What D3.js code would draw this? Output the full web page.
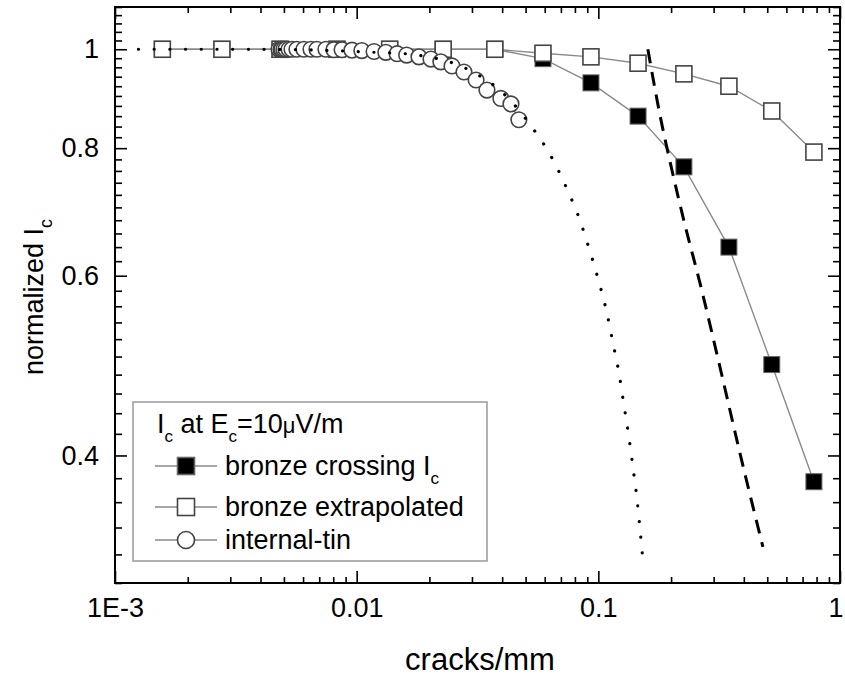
<!DOCTYPE html>
<html>
<head>
<meta charset="utf-8">
<script src="https://cdn.jsdelivr.net/npm/d3@7"></script>
<style>
  body { margin: 0; background: #fff; }
  text { font-family: "Liberation Sans", Arial, sans-serif; fill: #000; }
</style>
</head>
<body>
<svg id="chart"></svg>
<script>
// crack densities of the bronze samples (cracks/mm)
const bronzeX = [0.00157, 0.00277, 0.00482, 0.00829, 0.0137, 0.0228, 0.0373, 0.059, 0.0932, 0.146, 0.226, 0.347, 0.522, 0.78];
const bronzeCrossing = [1.0, 1.0, 1.0, 1.0, 1.0, 1.0, 1.0, 0.979, 0.927, 0.860, 0.767, 0.640, 0.491, 0.377];
const bronzeExtrap = [1.0, 1.0, 1.0, 1.0, 1.0, 1.0, 1.0, 0.991, 0.983, 0.969, 0.946, 0.920, 0.870, 0.793];

// internal-tin wire
const tinX = [0.00477, 0.00486, 0.00491, 0.0050, 0.0051, 0.00525, 0.0054, 0.00566, 0.00605, 0.00647,
              0.00685, 0.00746, 0.00805, 0.0087, 0.00956, 0.0105, 0.0118, 0.0132, 0.0147, 0.0161,
              0.0181, 0.0203, 0.0223, 0.0248, 0.0278, 0.0312, 0.0346, 0.0395, 0.0435, 0.0469];
const tinIc = [1.0, 1.0, 1.0, 1.0, 1.0, 1.0, 1.0, 1.0, 1.0, 1.0,
               1.0, 1.0, 0.999, 0.999, 0.998, 0.997, 0.995, 0.993, 0.99, 0.987,
               0.983, 0.978, 0.972, 0.963, 0.950, 0.933, 0.912, 0.895, 0.884, 0.853];

// model curves
const fitBronzeX = [0.1603, 0.1799, 0.2016, 0.2283, 0.2633, 0.3185, 0.3854, 0.4797];
const fitBronzeY = [1.0, 0.862, 0.7616, 0.6727, 0.5903, 0.4884, 0.4022, 0.3254];
const fitTinX = [0.00125, 0.0031, 0.0058, 0.0108, 0.0166, 0.0197, 0.0228, 0.0303, 0.0419, 0.0531, 0.0643, 0.0742,
                 0.0839, 0.0923, 0.1006, 0.1085, 0.1149, 0.1217, 0.1276, 0.1338, 0.139, 0.1444, 0.1486, 0.1529];
const fitTinY = [1.0, 1.0, 0.999, 0.994, 0.989, 0.983, 0.976, 0.95, 0.898, 0.839, 0.7825, 0.7296,
                 0.68, 0.634, 0.5916, 0.5517, 0.5156, 0.4818, 0.4482, 0.417, 0.3896, 0.3634, 0.3397, 0.3159];

const xTicks = [0.001, 0.01, 0.1, 1];
const xTickLabels = ["1E-3", "0.01", "0.1", "1"];
const yTicks = [0.4, 0.6, 0.8, 1];
const yTickLabels = ["0.4", "0.6", "0.8", "1"];

const width = 845, height = 678;
const margin = { top: 7, right: 5, bottom: 95, left: 115 };

const svg = d3.select("#chart").attr("width", width).attr("height", height);

const x = d3.scaleLog().domain([0.001, 1]).range([margin.left, width - margin.right]);
const y = d3.scaleLog().domain([0.3, 1.1]).range([height - margin.bottom, margin.top]);

const xMinor = [];
[0.001, 0.01, 0.1].forEach(d => { for (let k = 2; k <= 9; k++) xMinor.push(d * k); });
const yMinor = d3.range(30, 111, 2).map(v => v / 100).filter(v => !yTicks.some(t => Math.abs(t - v) < 1e-6));

const x0 = margin.left, x1 = width - margin.right, y0 = height - margin.bottom, y1 = margin.top;

function tickStyle(g) {
  g.select(".domain").remove();
  g.selectAll("line").attr("stroke", "#000").attr("stroke-width", 1.6);
  g.selectAll("text").style("font-size", "27px").attr("fill", "#000");
}

// bottom
const bottomAxis = svg.append("g").attr("transform", `translate(0,${y0})`)
  .call(d3.axisBottom(x).tickValues(xTicks).tickFormat((d, i) => xTickLabels[i]).tickSize(-12).tickPadding(15).tickSizeOuter(0))
  .call(tickStyle);
// keep the last label inside the window
bottomAxis.selectAll("text").filter(d => d === 1).attr("text-anchor", "end").attr("dx", 3);
svg.append("g").attr("transform", `translate(0,${y0})`)
  .call(d3.axisBottom(x).tickValues(xMinor).tickFormat("").tickSize(-6).tickSizeOuter(0))
  .call(tickStyle);
// top
svg.append("g").attr("transform", `translate(0,${y1})`)
  .call(d3.axisTop(x).tickValues(xTicks).tickFormat("").tickSize(-12).tickSizeOuter(0))
  .call(tickStyle);
svg.append("g").attr("transform", `translate(0,${y1})`)
  .call(d3.axisTop(x).tickValues(xMinor).tickFormat("").tickSize(-6).tickSizeOuter(0))
  .call(tickStyle);
// left
svg.append("g").attr("transform", `translate(${x0},0)`)
  .call(d3.axisLeft(y).tickValues(yTicks).tickFormat((d, i) => yTickLabels[i]).tickSize(-12).tickPadding(16).tickSizeOuter(0))
  .call(tickStyle);
svg.append("g").attr("transform", `translate(${x0},0)`)
  .call(d3.axisLeft(y).tickValues(yMinor).tickFormat("").tickSize(-7).tickSizeOuter(0))
  .call(tickStyle);
// right
svg.append("g").attr("transform", `translate(${x1},0)`)
  .call(d3.axisRight(y).tickValues(yTicks).tickFormat("").tickSize(-12).tickSizeOuter(0))
  .call(tickStyle);
svg.append("g").attr("transform", `translate(${x1},0)`)
  .call(d3.axisRight(y).tickValues(yMinor).tickFormat("").tickSize(-7).tickSizeOuter(0))
  .call(tickStyle);

// frame
svg.append("rect")
  .attr("x", x0).attr("y", y1).attr("width", x1 - x0).attr("height", y0 - y1)
  .attr("fill", "none").attr("stroke", "#000").attr("stroke-width", 2);

const line = d3.line().x(d => x(d[0])).y(d => y(d[1]));
const smooth = d3.line().x(d => x(d[0])).y(d => y(d[1])).curve(d3.curveMonotoneX);

const crossPts = bronzeX.map((v, i) => [v, bronzeCrossing[i]]);
const extrapPts = bronzeX.map((v, i) => [v, bronzeExtrap[i]]);
const tinPts = tinX.map((v, i) => [v, tinIc[i]]);

const sq = 16;

// bronze crossing Ic (filled)
svg.append("path").datum(crossPts).attr("d", line)
  .attr("fill", "none").attr("stroke", "#8a8a8a").attr("stroke-width", 1.4);
svg.selectAll(".filled").data(crossPts).enter().append("rect")
  .attr("class", "filled")
  .attr("x", d => x(d[0]) - sq / 2).attr("y", d => y(d[1]) - sq / 2)
  .attr("width", sq).attr("height", sq)
  .attr("fill", "#000").attr("stroke", "#666").attr("stroke-width", 1);

// bronze extrapolated (open)
svg.append("path").datum(extrapPts).attr("d", line)
  .attr("fill", "none").attr("stroke", "#8a8a8a").attr("stroke-width", 1.4);
svg.selectAll(".open").data(extrapPts).enter().append("rect")
  .attr("class", "open")
  .attr("x", d => x(d[0]) - sq / 2).attr("y", d => y(d[1]) - sq / 2)
  .attr("width", sq).attr("height", sq)
  .attr("fill", "#fff").attr("stroke", "#444").attr("stroke-width", 1.6);

// internal-tin
svg.append("path").datum(tinPts).attr("d", line)
  .attr("fill", "none").attr("stroke", "#8a8a8a").attr("stroke-width", 1.4);
svg.selectAll(".tin").data(tinPts).enter().append("circle")
  .attr("class", "tin")
  .attr("cx", d => x(d[0])).attr("cy", d => y(d[1])).attr("r", 7.8)
  .attr("fill", "#fff").attr("stroke", "#444").attr("stroke-width", 1.6);

// model curves
svg.append("path").datum(fitBronzeX.map((v, i) => [v, fitBronzeY[i]])).attr("d", smooth)
  .attr("fill", "none").attr("stroke", "#000").attr("stroke-width", 3)
  .attr("stroke-dasharray", "14 9");
svg.append("path").datum(fitTinX.map((v, i) => [v, fitTinY[i]])).attr("d", smooth)
  .attr("fill", "none").attr("stroke", "#000").attr("stroke-width", 3.2)
  .attr("stroke-linecap", "round").attr("stroke-dasharray", "0.1 15.6");

// axis titles
svg.append("text").attr("x", 480).attr("y", 670).attr("text-anchor", "middle")
  .style("font-size", "31px").text("cracks/mm");

const yt = svg.append("text").attr("transform", "translate(43,297) rotate(-90)")
  .attr("text-anchor", "middle").style("font-size", "27px");
yt.append("tspan").text("normalized I");
yt.append("tspan").attr("dy", 9).style("font-size", "18px").text("c");

// legend
const lg = svg.append("g");
lg.append("rect").attr("x", 133).attr("y", 402).attr("width", 354).attr("height", 159)
  .attr("fill", "#fff").attr("stroke", "#999").attr("stroke-width", 1.5);

const lt = lg.append("text").attr("x", 157).attr("y", 433).style("font-size", "27px");
lt.append("tspan").text("I");
lt.append("tspan").attr("dy", 9).style("font-size", "17px").text("c");
lt.append("tspan").attr("dy", -9).text(" at E");
lt.append("tspan").attr("dy", 9).style("font-size", "17px").text("c");
lt.append("tspan").attr("dy", -9).text("=10");
lt.append("tspan").style("font-size", "22px").text("μ");
lt.append("tspan").text("V/m");

const rows = [
  { cy: 466, label: "bronze crossing I", sub: "c", shape: "filled" },
  { cy: 507, label: "bronze extrapolated", sub: "", shape: "open" },
  { cy: 540, label: "internal-tin", sub: "", shape: "circle" }
];
rows.forEach(r => {
  lg.append("line").attr("x1", 155).attr("x2", 217).attr("y1", r.cy).attr("y2", r.cy)
    .attr("stroke", "#8a8a8a").attr("stroke-width", 1.4);
  if (r.shape === "circle") {
    lg.append("circle").attr("cx", 186).attr("cy", r.cy).attr("r", 8.5)
      .attr("fill", "#fff").attr("stroke", "#444").attr("stroke-width", 1.6);
  } else {
    lg.append("rect").attr("x", 186 - 8.5).attr("y", r.cy - 8.5).attr("width", 17).attr("height", 17)
      .attr("fill", r.shape === "filled" ? "#000" : "#fff")
      .attr("stroke", r.shape === "filled" ? "#666" : "#444").attr("stroke-width", 1.6);
  }
  const t = lg.append("text").attr("x", 225).attr("y", r.cy + 9).style("font-size", "27px");
  t.append("tspan").text(r.label);
  if (r.sub) t.append("tspan").attr("dy", 9).style("font-size", "17px").text(r.sub);
});
</script>
</body>
</html>
